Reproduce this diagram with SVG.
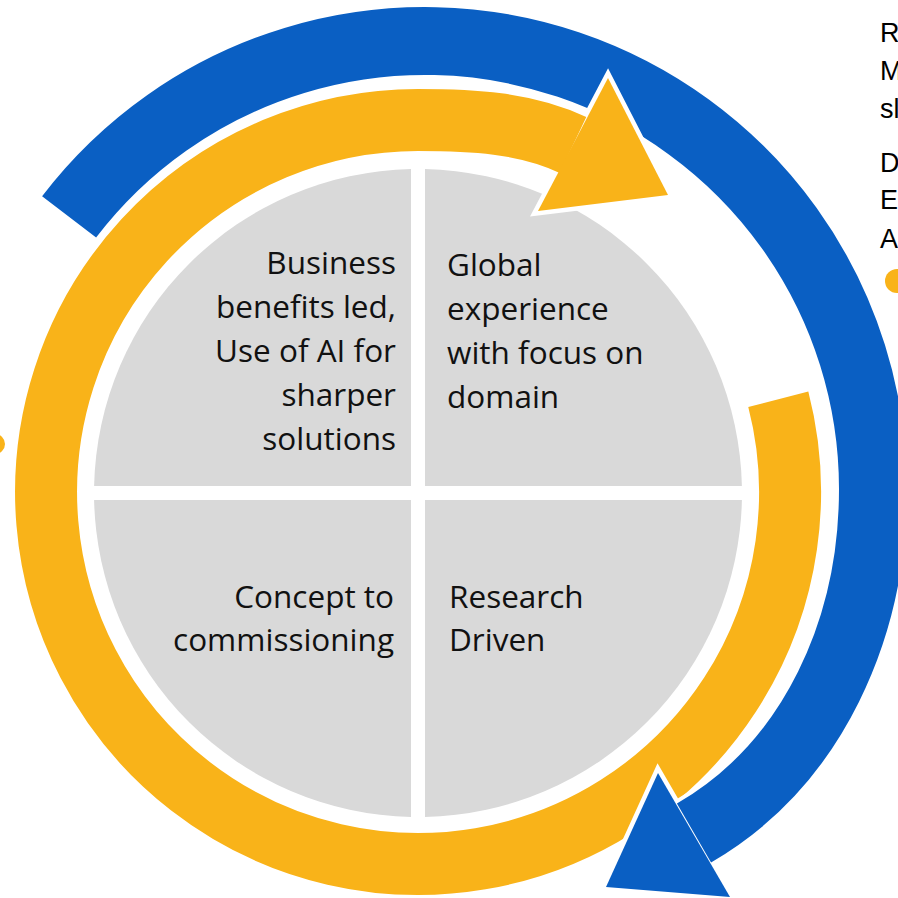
<svg xmlns="http://www.w3.org/2000/svg" width="898" height="898" viewBox="0 0 898 898">
<style>
.q{fill:#D9D9D9}
.t{font-family:"Open Sans","Noto Sans",sans-serif;font-size:31.5px;fill:#111}
.r{text-anchor:end}
.side{font-family:"Liberation Sans",Arial,sans-serif;font-size:27px;fill:#000}
.blue{fill:none;stroke:#0A5FC3;stroke-width:68}
.yel{fill:none;stroke:#F9B319;stroke-width:62}
.halo{fill:none;stroke:#fff}
</style>
<rect width="898" height="898" fill="#fff"/>
<g id="q-top-left">
<path class="q" d="M411,486 L94.1,486 A324,324 0 0 1 411,169.1 Z"/>
<text class="t r" x="396" y="274">Business</text>
<text class="t r" x="396" y="318">benefits led,</text>
<text class="t r" x="396" y="362">Use of AI for</text>
<text class="t r" x="396" y="406">sharper</text>
<text class="t r" x="396" y="450">solutions</text>
</g>
<g id="q-top-right">
<path class="q" d="M425,486 L425,169.1 A324,324 0 0 1 741.9,486 Z"/>
<text class="t" x="447" y="276">Global</text>
<text class="t" x="447" y="320">experience</text>
<text class="t" x="447" y="364">with focus on</text>
<text class="t" x="447" y="408">domain</text>
</g>
<g id="q-bottom-right">
<path class="q" d="M425,500 L741.9,500 A324,324 0 0 1 425,816.9 Z"/>
<text class="t" x="449" y="608">Research</text>
<text class="t" x="449" y="651">Driven</text>
</g>
<g id="q-bottom-left">
<path class="q" d="M411,500 L411,816.9 A324,324 0 0 1 94.1,500 Z"/>
<text class="t r" x="394" y="608">Concept to</text>
<text class="t r" x="394" y="651">commissioning</text>
</g>
<g id="connectors">
<path id="blue-arc-a" class="blue" d="M69.1,216.9 A448,448 0 0 1 873,489"/>
<g id="yellow-arrow">
<path class="halo" stroke-width="70" d="M778.3,399.2 A372,372 0 1 1 418,120 C470.9,120 525.2,122.3 573,145"/>
<polygon points="608,78 668,195 538,211" fill="#fff" stroke="#fff" stroke-width="9"/>
<path class="yel" d="M778.3,399.2 A372,372 0 1 1 418,120 C470.9,120 525.2,122.3 573,145"/>
<polygon points="608,78 668,195 538,211" fill="#F9B319"/>
</g>
<g id="blue-arrow">
<path class="halo" stroke-width="76" d="M873,489 C873,627.6 813.9,763.4 694,833"/>
<polygon points="658,773 730,897 606,887" fill="#fff" stroke="#fff" stroke-width="9"/>
<path class="blue" d="M873,489 C873,627.6 813.9,763.4 694,833"/>
<polygon points="658,773 730,897 606,887" fill="#0A5FC3"/>
</g>
</g>
<g id="side-text">
<text class="side" x="880" y="42">R</text>
<text class="side" x="880" y="80">M</text>
<text class="side" x="880" y="118">sl</text>
<text class="side" x="880" y="172">D</text>
<text class="side" x="880" y="209">E</text>
<text class="side" x="880" y="248">A</text>
<circle cx="897" cy="281" r="12" fill="#F9B319"/>
<circle cx="-5" cy="444" r="10" fill="#F9B319"/>
</g>
</svg>
